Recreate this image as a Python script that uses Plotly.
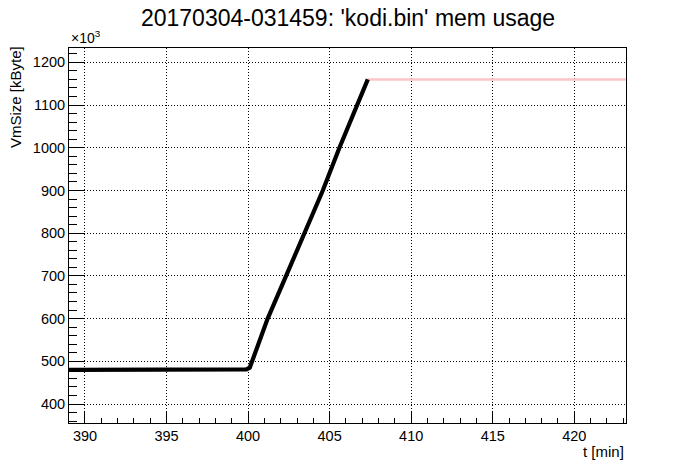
import plotly.graph_objects as go

# Data (VmSize in units of 10^3 kByte)
t_min = [389.0, 391.5, 392.0, 394.0, 396.0, 398.0, 399.9, 400.1, 400.3, 401.2,
         402.33, 403.45, 404.58, 405.6, 406.72, 407.34]
vm_size_k = [480, 480, 481, 480, 481, 481, 481, 485, 505, 600,
             700, 800, 900, 1000, 1100, 1160]

# max-level marker line (pink)
max_t = [407.34, 423.17]
max_v = [1160, 1160]

title_text = "20170304-031459: 'kodi.bin' mem usage"
x_title = "t [min]"
y_title = "VmSize [kByte]"

FONT = "Liberation Sans, Arial, Helvetica, sans-serif"

# page body has an 8px margin: figure is 8px smaller, shifted by 8px
W, H = 688, 464
L, T, R, B = 61, 40, 70, 49
PW = W - L - R
PH = H - T - B

fig = go.Figure()
fig.add_trace(go.Scatter(x=max_t, y=max_v, mode="lines",
                         line=dict(color="#ffc4c4", width=2.5), showlegend=False,
                         hoverinfo="skip"))
fig.add_trace(go.Scatter(x=t_min, y=vm_size_k, mode="lines",
                         line=dict(color="black", width=4.2), showlegend=False))

axis_common = dict(
    showline=True, linecolor="black", linewidth=1, mirror=True,
    ticks="inside", tickcolor="black", tickwidth=1,
    showgrid=True, gridcolor="black", gridwidth=1, griddash="1px,2px",
    zeroline=False, tickfont=dict(family=FONT, size=14.5, color="black"),
)

fig.update_xaxes(range=[389.02, 423.17], dtick=5, tick0=390, ticklen=11,
                 minor=dict(ticks="inside", dtick=1, ticklen=5, tickcolor="black",
                            showgrid=False),
                 **axis_common)
fig.update_yaxes(range=[355.6, 1233.5], dtick=100, tick0=0, ticklen=16,
                 minor=dict(ticks="inside", dtick=20, ticklen=8, tickcolor="black",
                            showgrid=False),
                 **axis_common)

fig.update_layout(
    width=W, height=H,
    margin=dict(l=L, r=R, t=T, b=B),
    paper_bgcolor="white", plot_bgcolor="white",
    font=dict(family=FONT, color="black"),
    title=dict(text=title_text, x=(348 - 8) / W, xanchor="center",
               y=1 - (18 - 8) / H, yanchor="middle", yref="container",
               font=dict(family=FONT, size=23, color="black")),
    annotations=[
        dict(text="×10<sup>3</sup>", xref="paper", yref="paper", x=0, y=1.0,
             xanchor="left", yanchor="bottom", showarrow=False,
             font=dict(family=FONT, size=14, color="black")),
        dict(text=y_title, xref="paper", yref="paper", x=(15 - 69) / PW,
             y=(423 - 44) / PH, xanchor="center", yanchor="top", textangle=-90,
             showarrow=False, font=dict(family=FONT, size=15, color="black")),
        dict(text=x_title, xref="paper", yref="paper", x=1.0,
             y=(423 - 451) / PH, xanchor="right", yanchor="middle",
             showarrow=False, font=dict(family=FONT, size=15, color="black")),
    ],
)

fig.write_html("out.html")
